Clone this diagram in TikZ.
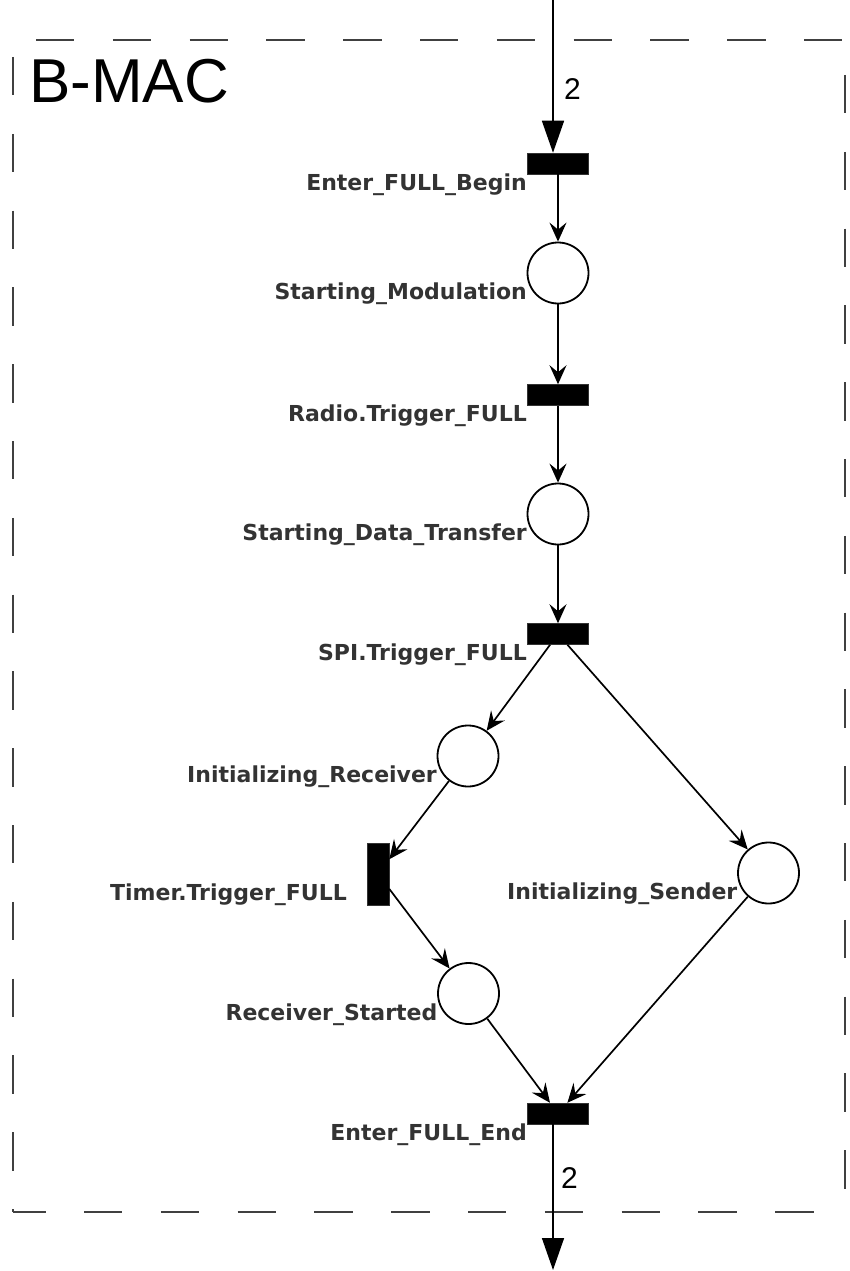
\documentclass[tikz,border=0pt]{standalone}
\usepackage{fontspec}
\setmainfont{Liberation Sans}
\newfontfamily\lblfont{DejaVu Sans}
\usetikzlibrary{calc,arrows.meta}
\tikzset{
	trans/.style={rectangle, fill=black, draw=black!80, line width=0.5pt, minimum width=61pt, minimum height=21pt, inner sep=0pt},
	vtrans/.style={trans, minimum width=22pt, minimum height=62pt},
	place/.style={circle, draw=black, line width=1.8pt, fill=white, minimum size=61pt, inner sep=0pt},
	arc/.style={line width=1.7pt, -{Stealth[length=19pt,width=17pt,inset=7pt]}},
	bigarc/.style={line width=1.5pt, -{Triangle[length=32pt,width=22pt]}},
	lab/.style={font=\lblfont\bfseries\fontsize{22}{22}\selectfont, text=black!80, inner sep=0pt, anchor=north east},
	dashframe/.style={line width=1.6pt, draw=black!75, dash pattern=on 38.4pt off 38.4pt},
}
\def\lbl(#1)#2{\node[lab] (#1-lab) at ($(#1)+(-31,10)$) {#2};}

\begin{document}
\begin{tikzpicture}[x=1pt, y=-1pt]
			%%%%% START %%%%%
			\useasboundingbox (0, 0) rectangle (849, 1271);
			
			% dashed box, each side with its own phase
			\coordinate (tl) at (13, 40);
			\coordinate (br) at (845, 1212);
			\draw[dashframe] (36, 40) -- (tl -| br);
			\draw[dashframe, dash phase=5.8pt] (tl |- br) -- (br);
			\draw[dashframe] (13, 57) -- (tl |- br);
			\draw[dashframe] (845, 75) -- (br);
			\node[anchor=base west, inner sep=0pt, font=\fontsize{62}{62}\selectfont] (title) at (29, 103) {B-MAC};
			
			\node[trans] (begin) at (558, 163.5) {};
			\node[place] (modul) at (558, 273) {};
			\node[trans] (radio) at (558, 395) {};
			\node[place] (data) at (558, 514) {};
			\node[trans] (spi) at (558, 634) {};
			\node[place] (recv) at (468, 756) {};
			\node[vtrans] (timer) at (378, 874) {};
			\node[place] (sender) at (768.5, 873) {};
			\node[place] (started) at (468.5, 993.5) {};
			\node[trans] (endt) at (558, 1113.5) {};
			
			\lbl(begin){Enter\_FULL\_Begin}
			\lbl(modul){Starting\_Modulation}
			\lbl(radio){Radio.Trigger\_FULL}
			\lbl(data){Starting\_Data\_Transfer}
			\lbl(spi){SPI.Trigger\_FULL}
			\lbl(recv){Initializing\_Receiver}
			\lbl(timer){Timer.Trigger\_FULL}
			\lbl(sender){Initializing\_Sender}
			\lbl(started){Receiver\_Started}
			\lbl(endt){Enter\_FULL\_End}
			
			\coordinate (src) at (553, 0);
			\coordinate (snk) at (553, 1270);
			\draw[bigarc] (src) -- (src |- begin.north);
			\node[anchor=base west, inner sep=0pt, font=\fontsize{30}{30}\selectfont] (win) at (564, 100) {2};
			\draw[arc] (begin) -- (modul);
			\draw[arc] (modul) -- (radio);
			\draw[arc] (radio) -- (data);
			\draw[arc] (data) -- (spi);
			\draw[arc] (spi) -- (recv);
			\draw[arc] (spi) -- (sender);
			\draw[arc] (recv) -- (timer);
			\draw[arc] (timer) -- (started);
			\draw[arc] (started) -- (endt);
			\draw[arc] (sender) -- (endt);
			\draw[bigarc] (endt.south -| snk) -- (snk);
			\node[anchor=base west, inner sep=0pt, font=\fontsize{30}{30}\selectfont] (wout) at (561, 1188) {2};
			
			%%%%% END %%%%%
\end{tikzpicture}
\end{document}
